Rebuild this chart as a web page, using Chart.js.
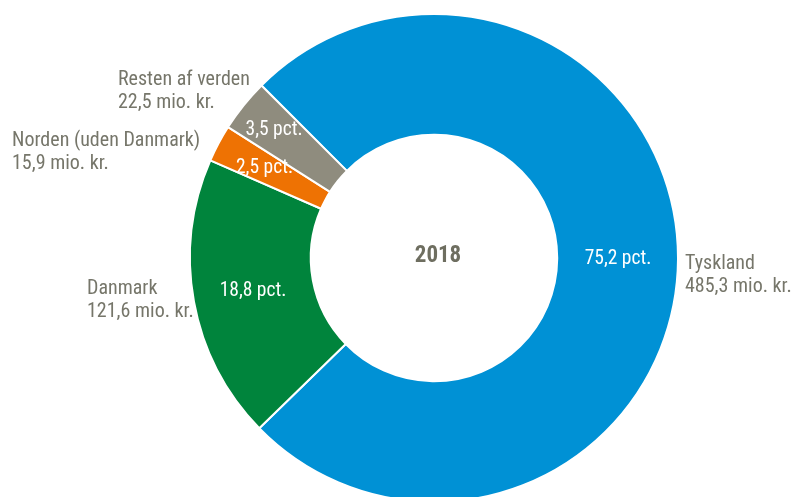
<!DOCTYPE html>
<html>
<head>
<meta charset="utf-8">
<script src="https://cdn.jsdelivr.net/npm/chart.js@4/dist/chart.umd.min.js"></script>
<style>
  html, body { margin:0; padding:0; background:#fff; overflow:hidden; }
  #wrap { position:relative; width:792px; height:497px; overflow:hidden; }
  #c { position:absolute; left:0; top:0; }
</style>
</head>
<body>
<div id="wrap"><canvas id="c" width="792" height="503"></canvas></div>
<script>
// 2018 – fordeling (mio. kr.)
const categories = ['Tyskland', 'Danmark', 'Norden (uden Danmark)', 'Resten af verden'];
const valuesMio = [485.3, 121.6, 15.9, 22.5];
const pctLabels = ['75,2 pct.', '18,8 pct.', '2,5 pct.', '3,5 pct.'];
const amountLabels = ['485,3 mio. kr.', '121,6 mio. kr.', '15,9 mio. kr.', '22,5 mio. kr.'];
const colors = ['#0091d5', '#00843c', '#ee7203', '#8f8c7e'];
const centerTitle = '2018';

const FONT = '"Liberation Sans Narrow", "Arial Narrow", "Roboto Condensed", "Liberation Sans", sans-serif';
const TXT = '#76766a';

// outside label anchors (left-aligned text, first line centre y)
const outside = [
  { x: 685, y: 264 },
  { x: 87,  y: 289 },
  { x: 12,  y: 141 },
  { x: 118, y: 80 },
];
// distance of the inner pct label from the centre, per slice
const pctRadius = [184, 184, 192, 205];

const labelsPlugin = {
  id: 'labels',
  afterDatasetsDraw(chart) {
    const ctx = chart.ctx;
    const arcs = chart.getDatasetMeta(0).data;
    ctx.save();
    ctx.textBaseline = 'middle';
    arcs.forEach((a, i) => {
      const p = a.getProps(['x', 'y', 'startAngle', 'endAngle'], true);
      const mid = (p.startAngle + p.endAngle) / 2;
      const r = pctRadius[i];
      ctx.fillStyle = '#fff';
      ctx.font = '19.5px ' + FONT;
      ctx.textAlign = 'center';
      ctx.fillText(pctLabels[i], p.x + Math.cos(mid) * r, p.y + Math.sin(mid) * r);

      ctx.fillStyle = TXT;
      ctx.font = '20px ' + FONT;
      ctx.textAlign = 'left';
      ctx.fillText(categories[i], outside[i].x, outside[i].y);
      ctx.fillText(amountLabels[i], outside[i].x, outside[i].y + 23);
    });
    const c = arcs[0];
    ctx.fillStyle = '#6e6e60';
    ctx.font = 'bold 23px ' + FONT;
    ctx.textAlign = 'center';
    ctx.fillText(centerTitle, c.x + 4, c.y - 2);
    ctx.restore();
  }
};

new Chart(document.getElementById('c'), {
  type: 'doughnut',
  data: {
    labels: categories,
    datasets: [{
      data: valuesMio,
      backgroundColor: colors,
      borderColor: '#ffffff',
      borderWidth: 2,
    }]
  },
  options: {
    responsive: false,
    animation: false,
    rotation: -45,
    cutout: '50.5%',
    layout: { padding: { left: 76, top: 13, right: 0, bottom: 0 } },
    plugins: { legend: { display: false }, tooltip: { enabled: false } }
  },
  plugins: [labelsPlugin]
});
</script>
</body>
</html>
